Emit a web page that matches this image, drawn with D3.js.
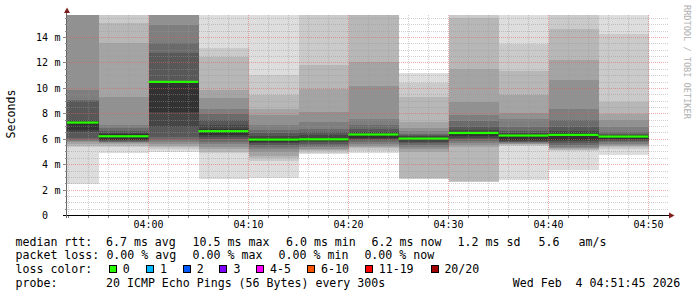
<!DOCTYPE html>
<html><head><meta charset="utf-8">
<script src="https://cdn.jsdelivr.net/npm/d3@7"></script>
<style>
body{margin:0;background:#fff}
svg{display:block}
text{font-family:"DejaVu Sans Mono",monospace;white-space:pre}
</style></head><body>
<svg id="c" width="697" height="297" xml:space="preserve"></svg>
<script>
// ---------------- data ----------------
const chartStart = "03:51:45", chartEnd = "04:51:45";
const barEnds = ["03:55","04:00","04:05","04:10","04:15","04:20","04:25","04:30","04:35","04:40","04:45","04:50"];
const medians = [7.32, 6.24, 10.52, 6.64, 5.98, 6.0, 6.38, 6.06, 6.5, 6.3, 6.35, 6.22];
const I = Infinity; // ping above the top of the graph
const pings = [
 [2.5,5.4,5.5,5.6,5.8,5.85,5.93,6.06,6.6,6.72,7.4,7.5,9.0,9.08,9.87,I,I,I,I,I],
 [4.88,5.4,5.5,5.6,5.7,5.75,5.8,5.85,5.9,5.97,6.4,6.52,6.68,6.87,7.11,9.34,13.54,15.12,I,I],
 [5.0,5.25,5.35,5.5,5.65,5.8,5.9,6.17,6.95,8.13,10.53,10.56,12.76,13.59,14.98,I,I,I,I,I],
 [2.9,4.9,5.0,5.2,5.4,5.6,5.8,6.0,6.15,6.3,6.8,7.11,7.48,7.98,8.39,9.24,9.84,12.43,13.21,I],
 [2.96,4.3,4.5,4.7,5.0,5.2,5.4,5.55,5.7,5.81,6.13,6.28,6.48,6.72,7.09,7.87,8.39,9.45,11.07,I],
 [4.8,4.95,5.05,5.15,5.25,5.35,5.5,5.65,5.75,5.85,6.13,6.32,6.56,6.82,7.35,8.13,9.97,11.81,I,I],
 [4.93,5.1,5.3,5.4,5.5,5.6,5.75,5.9,6.0,6.09,6.48,6.6,6.8,7.09,7.61,10.18,12.07,I,I,I],
 [2.88,2.9,2.95,5.0,5.2,5.4,5.55,5.7,5.8,5.91,6.17,6.24,6.32,6.43,6.64,6.87,7.35,9.31,10.44,11.23],
 [2.65,2.67,2.7,5.4,5.55,5.7,5.85,6.0,6.1,6.24,6.6,6.76,6.95,7.43,7.87,8.92,11.5,15.54,I,I],
 [2.82,5.5,5.55,5.6,5.65,5.7,5.75,5.8,5.85,5.93,6.4,6.52,6.68,6.95,7.56,8.06,9.5,11.34,13.51,I],
 [3.6,5.1,5.15,5.2,5.3,5.4,5.55,5.7,5.85,5.93,6.48,6.64,6.95,7.48,8.39,10.63,12.2,14.67,I,I],
 [4.77,5.2,5.35,5.45,5.55,5.65,5.75,5.85,5.95,6.03,6.3,6.36,6.44,6.56,6.95,7.48,8.0,8.92,14.3,I]
];
const yMajor = [0,2,4,6,8,10,12,14];
const yUnit = "m";
const xTickLabels = ["04:00","04:10","04:20","04:30","04:40","04:50"];
const lossLabels = ["0","1","2","3","4-5","6-10","11-19","20/20"];
const lossColors = ["#26ff00","#00b8ff","#0059ff","#7e00ff","#ff00ff","#ff5500","#ff0000","#a10000"];
const rttLine = ["median rtt:","6.7 ms avg","10.5 ms max","6.0 ms min","6.2 ms now","1.2 ms sd","5.6","am/s"];
const lossLine = ["packet loss:","0.00 % avg","0.00 % max","0.00 % min","0.00 % now"];
const probeLine = ["probe:","20 ICMP Echo Pings (56 Bytes) every 300s","Wed Feb  4 04:51:45 2026"];
const yTitle = "Seconds";
const watermark = "RRDTOOL / TOBI OETIKER";

// ---------------- layout ----------------
const day = t => { const p = t.split(":").map(Number); return new Date(2026,1,4,p[0],p[1],p[2]||0); };
const yMax = 15.77;
const x = d3.scaleTime().domain([day(chartStart), day(chartEnd)]).range([66, 666]);
const y = d3.scaleLinear().domain([0, yMax]).range([215.5, 15]);
const svg = d3.select("#c");
svg.append("rect").attr("width",697).attr("height",297).attr("fill","#fff");

const bars = barEnds.map((e,i) => ({
  t0: day(i === 0 ? chartStart : barEnds[i-1]), t1: day(e), p: pings[i], m: medians[i]
}));

// smoke: pair k covers ping k .. ping (21-k)
const smoke = svg.append("g").attr("shape-rendering","crispEdges");
for (let k = 1; k <= 10; k++) {
  const c = Math.floor(190/10*(10-k)) + 50;
  const col = d3.rgb(c,c,c).formatHex();
  smoke.selectAll(null).data(bars).join("rect")
    .attr("x", d => x(d.t0))
    .attr("width", d => x(d.t1) - x(d.t0))
    .attr("y", d => y(Math.min(d.p[20-k], yMax)))
    .attr("height", d => y(d.p[k-1]) - y(Math.min(d.p[20-k], yMax)))
    .attr("fill", col);
}

// grid
const snap = v => Math.round(v - 0.5) + 0.5;
const grid = svg.append("g").attr("stroke-dasharray","1,1").attr("stroke-width",1);
const yMinor = d3.range(0.5, yMax, 0.5).filter(v => v % 2 !== 0);
grid.selectAll(null).data(yMinor).join("line")
  .attr("x1",67).attr("x2",668).attr("y1",d=>snap(y(d))).attr("y2",d=>snap(y(d)))
  .attr("stroke","rgba(150,150,150,0.45)");
const xMinorT = d3.timeMinute.every(2).range(day(chartStart), day(chartEnd)).filter(d => d.getMinutes() % 10 !== 0);
grid.selectAll(null).data(xMinorT).join("line")
  .attr("y1",15).attr("y2",215).attr("x1",d=>snap(x(d))).attr("x2",d=>snap(x(d)))
  .attr("stroke","rgba(150,150,150,0.45)");
grid.selectAll(null).data(yMajor.slice(1)).join("line")
  .attr("x1",67).attr("x2",668).attr("y1",d=>snap(y(d))).attr("y2",d=>snap(y(d)))
  .attr("stroke","rgba(230,90,90,0.5)");
const xMajorT = xTickLabels.map(day);
grid.selectAll(null).data(xMajorT).join("line")
  .attr("y1",15).attr("y2",215).attr("x1",d=>snap(x(d))).attr("x2",d=>snap(x(d)))
  .attr("stroke","rgba(230,90,90,0.5)");

// medians
svg.append("g").selectAll(null).data(bars).join("rect")
  .attr("x", d => x(d.t0)).attr("width", d => x(d.t1) - x(d.t0))
  .attr("y", d => y(d.m) - 1).attr("height", 2.2)
  .attr("fill", lossColors[0]);

// axes
const ax = svg.append("g").attr("shape-rendering","crispEdges");
ax.append("line").attr("x1",63).attr("x2",670).attr("y1",215.5).attr("y2",215.5).attr("stroke","#000");
ax.append("line").attr("x1",66.5).attr("x2",66.5).attr("y1",218).attr("y2",12).attr("stroke","#666");
ax.selectAll(null).data(d3.range(0.5, yMax, 0.5)).join("line")
  .attr("x1",d => d % 2 === 0 ? 63 : 64.5).attr("x2",66.5)
  .attr("y1",d=>snap(y(d))).attr("y2",d=>snap(y(d))).attr("stroke","#888");
ax.selectAll(null).data(d3.timeMinute.every(2).range(day(chartStart), day(chartEnd))).join("line")
  .attr("y1",215.5).attr("y2",d => d.getMinutes()%10===0 ? 218.5 : 217.5)
  .attr("x1",d=>snap(x(d))).attr("x2",d=>snap(x(d))).attr("stroke","#888");
svg.append("path").attr("d","M67,7.5 L64,13 L70,13 Z").attr("fill","#7f1f1f");
svg.append("path").attr("d","M674.5,215.5 L669,212.5 L669,218.5 Z").attr("fill","#7f1f1f");

// axis labels
const yl = svg.append("g").attr("font-size","10px").attr("fill","#000");
yl.selectAll(null).data(yMajor).join("text")
  .attr("x",48).attr("y",d=>y(d)+3.5).attr("text-anchor","end").text(d=>d);
yl.selectAll(null).data(yMajor.slice(1)).join("text")
  .attr("x",54.5).attr("y",d=>y(d)+3.5).text(yUnit);
svg.append("g").attr("font-size","10px").selectAll(null).data(xTickLabels).join("text")
  .attr("x",d=>x(day(d))).attr("y",227.6).attr("text-anchor","middle").text(d=>d);

svg.append("text").attr("transform","translate(14.5,114) rotate(-90)")
  .attr("text-anchor","middle").attr("font-size","11.6px").text(yTitle);
svg.append("text").attr("transform","translate(684,5) rotate(90)")
  .attr("font-size","8.6px").attr("fill","#b0b0b0").text(watermark);

// legend
const lg = svg.append("g").attr("font-size","11.6px").attr("fill","#000");
const put = (xs, strs, yy) => strs.forEach((s,i) => lg.append("text").attr("x",xs[i]).attr("y",yy).text(s));
put([15.5,106,192.6,286,371.6,457.6,538.6,578.6], rttLine, 245.5);
put([15.5,106.4,192.6,278.6,364.4], lossLine, 259.3);
put([15.5], ["loss color:"], 273.1);
put([15.5,106,512.8], probeLine, 286.8);
const sqX = [109,146,182.7,219.3,256,306.7,365,430.7];
const lbX = [122.7,160,196.7,233.4,270.1,321.1,378.7,444.4];
lg.selectAll(null).data(lossLabels).join("rect")
  .attr("x",(d,i)=>Math.round(sqX[i])+0.5).attr("y",265.5).attr("width",7).attr("height",7)
  .attr("fill",(d,i)=>lossColors[i]).attr("stroke","#000").attr("stroke-width",1);
lg.selectAll(null).data(lossLabels).join("text")
  .attr("x",(d,i)=>lbX[i]).attr("y",273.1).text(d=>d);
</script>
</body></html>
